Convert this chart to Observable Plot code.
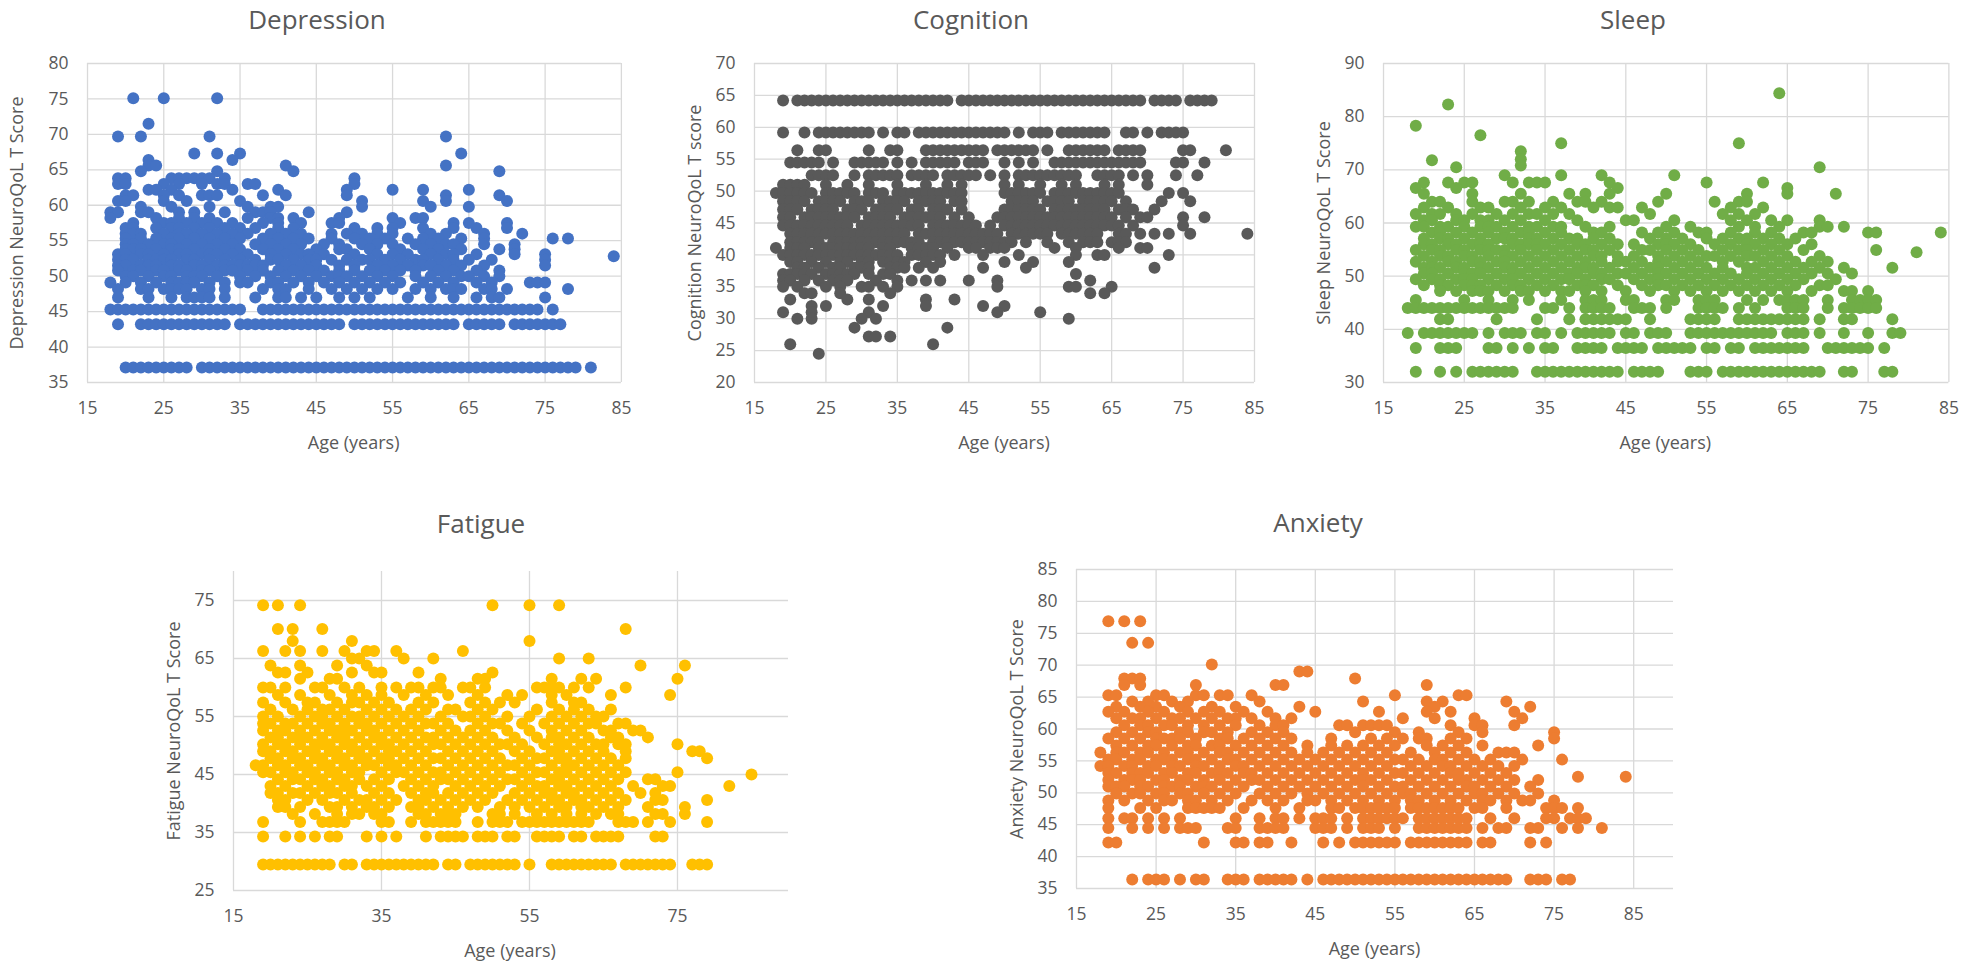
<!DOCTYPE html>
<html><head><meta charset="utf-8">
<script src="https://cdn.jsdelivr.net/npm/d3@7"></script>
<script src="https://cdn.jsdelivr.net/npm/@observablehq/plot@0.6"></script>
<style>
body{margin:0;background:#fff;}
#root{position:relative;width:1961px;height:969px;overflow:hidden;font-family:"Open Sans",sans-serif;color:#595959;}
.t{position:absolute;white-space:nowrap;transform:translate(-50%,-50%);}
.title{font-size:26px;}
.lab{font-size:18px;}
.rot{transform:translate(-50%,-50%) rotate(-90deg);}
</style></head><body><div id="root"></div>
<script>
// ---------------- DATA ----------------
const xTicksA = [15,25,35,45,55,65,75,85];
const xTicksF = [15,35,55,75];
const depTicks = [35,40,45,50,55,60,65,70,75,80];
const cogTicks = [20,25,30,35,40,45,50,55,60,65,70];
const slpTicks = [30,40,50,60,70,80,90];
const fatTicks = [25,35,45,55,65,75];
const anxTicks = [35,40,45,50,55,60,65,70,75,80,85];

const depScores = [75.1,71.5,69.7,67.3,66.4,65.6,64.8,63.8,63.0,62.2,61.4,60.6,59.8,59.0,58.2,57.5,56.8,56.0,55.3,54.5,53.8,53.1,52.8,52.3,51.5,50.8,50.0,49.1,48.2,47.0,45.3,43.2,37.1];
const depAges = [
 [21,25,32],[23],[19,22,31,62],[29,32,35,64],[23,34],[23,24,41,62],[22,32,42,69],
 [19,20,26,27,28,29,30,31,33,50],
 [19,20,25,27,30,32,33,36,37,50],
 [23,24,26,34,40,49,55,59,65],
 [20,21,25,27,30,31,32,38,41,49,62,69],
 [19,20,25,28,35,51,59,62,70],
 [22,26,31,36,39,40,51,60,65],
 [18,19,22,23,27,29,33,37,38,39,44,49],
 [18,24,27,29,31,36,39,40,42,48,55,58,59],
 [21,25,26,28,30,32,34,38,40,43,47,48,56,63,65,70],
 [20,21,24,26,27,29,31,33,35,37,40,42,50,53,55,59,63,66,70],
 [20,21,22,25,27,28,30,32,34,36,39,41,43,47,49,51,53,55,60,62,67,72],
 [20,22,24,26,27,29,31,33,35,38,40,42,44,47,50,52,54,57,59,61,64,67,76,78],
 [20,21,23,25,26,28,30,32,34,37,39,41,43,46,48,51,53,55,58,60,62,63,67,71],
 [20,21,22,24,26,27,29,31,33,35,38,40,42,45,48,49,52,56,59,61,64,69,71],
 [19,20,22,23,25,27,28,30,31,32,34,36,39,41,43,44,46,50,53,55,57,60,62,63,66,71,75],
 [84],
 [19,20,21,23,24,25,26,28,29,31,33,35,37,39,40,42,44,45,47,49,51,52,54,56,58,59,61,63,65,68,75],
 [19,20,22,23,24,26,27,29,30,32,33,34,35,36,37,38,41,43,45,48,50,53,55,57,59,60,62,64,67,75],
 [19,21,22,24,25,27,28,30,31,33,34,36,38,40,42,44,46,48,50,52,54,56,58,61,63,66,69],
 [20,21,23,25,26,28,29,30,32,35,37,39,41,43,45,47,48,49,51,53,55,58,60,62,64,65,67,69],
 [18,20,22,24,26,27,28,29,31,33,35,36,39,40,42,44,46,48,50,52,54,56,59,61,63,66,68,73,74,75],
 [19,22,23,25,26,27,28,30,31,33,38,40,41,44,47,49,51,53,55,58,60,62,63,64,67,68,70,78],
 [19,23,26,28,29,30,31,33,37,40,41,43,45,48,50,52,57,60,63,66,68,69,75],
 [18,19,20,21,22,23,24,25,26,27,28,29,30,31,32,33,34,35,38,39,40,41,42,43,44,45,46,47,48,49,50,51,52,53,54,55,56,57,58,59,60,61,62,63,64,65,66,67,68,69,70,71,72,73,74,76],
 [19,22,23,24,25,26,27,28,29,30,31,32,33,35,36,37,38,39,40,41,42,43,44,45,46,47,48,50,51,52,53,54,55,56,57,58,59,60,61,62,63,65,66,67,68,69,71,72,73,74,75,76,77],
 [20,21,22,23,24,25,26,27,28,30,31,32,33,34,35,36,37,38,39,40,41,42,43,44,45,46,47,48,49,50,51,52,53,54,55,56,57,58,59,60,61,62,63,64,65,66,67,68,69,70,71,72,73,74,75,76,77,78,79,81]
];

const cogScores = [64.2,59.2,56.4,54.5,52.5,51.0,49.7,48.4,47.1,45.9,44.6,43.3,42.0,41.1,40.0,38.9,38.0,37.0,36.0,35.0,34.0,33.0,32.0,31.0,30.0,28.6,27.2,26.0,24.5];
const cogAges = [
 [19,21,22,23,24,25,26,27,28,29,30,31,32,33,34,35,36,37,38,39,40,41,42,44,45,46,47,48,49,50,51,52,53,54,55,56,57,58,59,60,61,62,63,64,65,66,67,68,69,71,72,73,74,76,77,78,79],
 [19,22,24,25,26,27,28,29,30,31,33,35,36,38,39,40,41,42,43,44,45,46,47,48,49,50,52,54,55,56,58,59,60,61,62,63,64,67,68,70,72,73,74,75],
 [21,24,25,31,34,35,39,40,41,42,43,44,45,46,47,49,50,51,52,53,54,56,59,60,61,62,63,64,66,67,68,69,75,76,81],
 [20,21,22,23,24,26,29,30,31,32,33,35,37,39,40,41,42,43,45,46,47,50,52,54,57,58,59,60,61,62,63,64,65,66,67,68,69,74,75,78],
 [23,24,25,26,29,31,32,33,34,35,37,38,39,40,42,43,44,45,46,48,50,52,53,54,55,56,57,58,59,60,63,64,65,66,68,70,74,77],
 [19,20,21,22,25,28,31,35,39,42,44,50,52,55,58,60,64,66,70],
 [18,19,20,21,22,23,25,26,27,28,29,31,32,33,35,36,37,38,39,40,41,42,43,44,50,51,52,53,54,55,57,58,59,60,61,62,63,64,65,66,73,75],
 [19,20,21,22,24,25,26,27,29,30,31,33,34,35,36,38,39,40,41,43,44,51,52,53,54,56,57,58,59,61,62,63,64,65,67,72,76],
 [19,20,21,23,24,25,26,28,29,30,32,33,34,35,37,38,40,41,42,44,50,51,52,53,54,55,57,58,59,60,61,62,63,64,66,67,68,71],
 [19,20,22,23,24,25,26,27,28,29,31,32,33,34,36,37,38,39,40,41,43,45,49,50,51,52,53,54,55,56,57,58,59,60,61,62,63,64,65,67,69,70,75,78],
 [19,20,21,22,23,24,25,26,27,28,30,31,32,33,34,35,36,37,38,40,41,42,43,44,45,46,48,50,51,52,53,54,55,56,57,58,59,60,61,62,63,64,65,66,68,75],
 [20,21,22,23,24,25,26,27,28,29,30,31,32,33,34,35,36,38,39,40,41,42,43,44,45,46,47,48,49,51,52,53,54,55,56,58,59,60,61,62,63,66,67,69,71,73,76,84],
 [20,21,22,23,24,26,27,28,29,30,31,32,33,34,35,36,37,38,40,41,42,43,44,45,46,47,48,49,50,51,53,56,59,61,62,63,65,66,67],
 [18,20,21,22,24,25,26,27,28,29,30,31,33,34,37,38,39,40,42,45,46,48,49,50,57,60,66,69,70],
 [19,20,21,22,23,24,25,26,27,28,29,30,31,32,33,34,35,37,38,39,40,41,43,47,52,60,63,64,73],
 [20,21,23,25,27,28,30,31,33,34,35,36,39,41,50,54,59],
 [21,22,24,26,27,29,30,31,34,35,36,38,40,47,53,71],
 [19,20,21,22,23,25,26,27,28,29,31,33,34,60],
 [19,20,22,24,26,27,28,32,35,37,39,41,45,49,62],
 [19,21,25,27,30,31,33,35,49,59,60,65],
 [22,23,27,34,62,64],
 [20,28,31,39,43],
 [23,25,33,39,47,50],
 [19,23,31,49,55],
 [21,23,30,32,59],
 [29,42],
 [31,32,34],
 [20,40],
 [24]
];

const slpScores = [84.4,82.3,78.3,76.5,75.0,73.5,72.0,71.8,70.8,70.5,69.0,67.6,66.6,65.5,64.0,62.9,61.7,60.5,59.3,58.2,57.1,56.0,54.9,54.5,53.8,52.7,51.6,50.5,49.4,48.3,47.2,45.5,44.0,41.9,39.3,36.5,32.0];
const slpAges = [
 [64],[23],[19],[27],[37,59],[32],[32],[21],[32],[24,69],[30,37,42,51],
 [20,23,25,26,31,33,34,35,43,55,62],
 [19,24,44,65],
 [20,26,32,38,40,43,50,60,65,71],
 [21,22,26,30,31,33,36,39,40,42,49,56,59,60],
 [20,23,27,28,32,35,37,41,43,44,47,58,62],
 [19,21,22,24,26,29,31,33,34,36,38,48,57,59,61],
 [20,21,24,25,27,28,30,32,35,39,45,46,51,58,60,63,65,69],
 [19,20,22,23,25,27,28,29,31,33,34,36,37,40,43,50,53,59,61,64,69,70,72],
 [21,22,24,26,28,30,32,33,35,37,41,42,47,49,51,54,55,58,61,63,67,68,75,76,84],
 [20,22,23,25,27,29,30,31,33,34,36,38,39,41,43,48,50,52,55,57,59,60,62,64,66],
 [20,21,23,24,26,27,28,31,32,33,34,35,37,39,40,42,44,46,49,50,51,53,56,58,60,61,63,65,68],
 [19,21,22,24,25,27,28,29,30,32,34,36,38,40,41,43,47,48,50,52,54,57,59,60,62,64,67,76],
 [81],
 [20,22,23,25,26,28,30,31,33,35,37,39,41,42,44,46,49,51,53,55,56,58,60,61,63,65,69],
 [19,21,23,24,26,27,29,30,32,34,36,38,40,42,44,45,47,49,50,52,54,57,59,62,64,66,68,70],
 [20,21,22,24,25,27,28,30,31,33,35,37,39,40,41,43,46,48,49,51,53,55,57,60,61,63,65,67,69,72,78],
 [20,21,23,25,26,27,29,31,32,34,36,38,39,41,42,44,45,47,49,50,52,54,56,58,60,62,64,66,68,70,73],
 [19,21,22,24,25,26,28,30,31,33,35,37,38,40,42,43,46,48,49,51,53,55,57,59,61,63,65,67,71],
 [20,22,23,25,26,27,29,31,32,34,36,39,40,41,44,47,49,50,52,54,56,58,60,62,64,66,69,70],
 [22,24,26,27,28,30,32,33,35,37,38,40,42,45,48,51,53,55,57,59,61,63,65,68,72,73,75],
 [19,25,28,31,33,37,40,41,42,45,46,50,51,54,55,56,60,62,64,65,66,67,70,73,74,75,76],
 [18,19,20,21,22,23,24,25,26,27,28,29,30,31,35,36,38,40,41,42,43,46,47,48,50,54,55,56,57,59,61,65,66,67,70,72,73,74,75,76],
 [22,23,29,34,38,40,41,42,43,44,45,48,53,54,55,56,59,60,61,62,63,64,65,66,67,69,72,73,78],
 [18,20,21,22,23,24,25,26,28,30,31,32,34,35,37,39,40,41,42,43,45,46,48,49,50,53,54,55,56,57,58,59,60,61,62,63,65,66,67,69,72,75,78,79],
 [19,22,23,24,28,29,31,33,35,36,39,40,41,42,44,45,46,47,49,50,51,52,53,55,56,58,59,61,62,63,64,65,66,67,70,71,72,73,74,75,77],
 [19,22,24,26,27,28,29,30,31,34,35,36,37,38,39,40,41,42,43,44,46,47,48,49,53,54,55,57,58,59,60,61,62,63,64,65,66,67,68,69,72,73,77,78]
];

const fatScores = [74.2,70.1,68.0,66.3,65.0,63.8,62.6,61.5,60.0,58.7,57.4,56.2,55.0,53.8,52.6,51.4,50.2,49.0,47.8,46.6,45.4,45.0,44.2,43.0,41.8,40.6,39.4,38.2,36.8,34.3,29.5];
const fatAges = [
 [19,21,24,50,55,59],
 [21,23,27,68],
 [23,31,55],
 [19,22,24,27,30,33,34,37,46],
 [31,32,38,42,59,63],
 [20,24,29,33,70,76],
 [21,22,25,31,34,35,40,50],
 [24,28,29,43,48,49,58,62,64,75],
 [19,20,22,26,27,30,32,35,37,39,40,42,43,46,47,49,56,57,58,59,61,63,68],
 [21,24,28,31,33,35,38,41,44,48,52,54,58,60,66,74],
 [19,22,25,26,29,31,32,34,36,40,42,47,49,51,53,58,61,62],
 [20,23,25,27,28,30,33,35,37,39,41,44,45,48,50,56,59,61,63,66],
 [19,21,24,26,27,29,31,32,34,36,38,40,43,46,47,49,52,55,58,60,62,64,65],
 [19,20,22,23,25,27,28,30,32,33,35,37,39,41,42,44,48,50,51,54,57,59,61,63,64,67,68],
 [19,21,22,24,26,28,29,30,31,33,34,36,38,40,43,45,47,49,52,55,58,60,62,65,66,69,70],
 [20,21,23,24,25,27,29,30,32,34,35,37,39,41,42,44,46,48,50,53,56,58,59,61,63,66,67,71],
 [19,21,22,24,26,27,28,30,31,33,35,36,38,40,42,43,45,47,49,51,52,54,57,59,60,62,64,65,67,68,75],
 [19,20,22,23,25,26,28,29,31,32,34,36,37,39,41,44,46,48,50,53,55,58,59,61,63,65,68,77,78],
 [20,21,23,24,26,27,29,30,32,33,35,36,38,40,42,43,45,47,49,51,54,56,57,59,60,62,64,66,68,79],
 [18,19,21,22,24,25,27,28,30,31,33,34,36,37,39,41,44,46,48,50,52,53,55,58,60,61,63,65,67],
 [19,20,22,23,25,26,28,29,31,32,35,37,38,40,42,43,45,47,49,51,54,56,57,59,60,62,64,66,68,75],
 [85],
 [21,23,24,26,27,29,30,32,34,36,39,41,43,44,46,48,50,52,53,55,58,59,61,63,65,67,71,72],
 [20,22,25,27,28,30,31,33,35,38,40,42,45,47,49,51,54,56,57,59,60,62,64,66,69,73,74,82],
 [20,21,23,24,26,28,29,31,34,36,39,41,42,44,46,48,50,53,55,57,58,60,61,63,65,67,70,72],
 [21,22,25,27,30,32,33,35,37,40,41,43,45,47,49,52,54,56,58,59,61,62,64,66,68,72,73,79],
 [21,22,24,28,29,31,33,34,36,39,40,42,44,46,48,51,53,55,57,59,60,62,63,65,67,71,76],
 [23,26,29,31,32,34,35,40,41,43,44,45,50,51,53,56,58,60,62,64,66,67,72,73,76],
 [19,24,27,28,29,30,35,36,39,41,42,43,44,45,48,50,51,52,54,55,56,57,58,59,60,61,62,63,67,68,69,71,74,79],
 [19,22,24,26,28,29,33,35,37,41,43,44,45,46,48,49,50,52,53,56,57,58,59,61,62,64,65,66,67,72,73],
 [19,20,21,22,23,24,25,26,27,28,30,31,33,34,35,36,37,38,39,40,41,42,44,45,47,48,49,50,51,52,53,55,58,59,60,61,62,63,64,65,66,68,69,70,71,72,73,74,77,78,79]
];

const anxScores = [76.9,73.5,70.1,69.0,67.9,66.9,65.3,64.3,63.5,62.7,61.7,60.6,59.5,58.5,57.4,56.3,55.2,54.2,53.1,52.5,52.0,51.0,49.9,48.8,47.6,46.0,44.5,42.2,36.4];
const anxAges = [
 [19,21,23],[22,24],[32],[43,44],[21,22,23,50],[21,23,30,40,41,59],
 [19,20,25,26,30,31,33,34,37,55,63,64],
 [22,24,27,29,38,51,59,61,69],
 [20,23,25,28,32,35,43,60,72],
 [19,21,24,26,29,31,33,36,39,45,53,59,62,70],
 [20,22,23,25,27,28,30,32,34,35,37,40,42,56,60,65,71],
 [21,23,24,26,27,29,31,33,35,38,40,41,48,49,51,52,53,54,62,65,66,70],
 [20,22,24,25,28,29,31,32,34,37,39,41,50,55,58,63,66,75],
 [19,21,23,25,26,27,28,30,33,34,36,38,40,42,47,52,54,56,58,59,62,64,75],
 [20,22,24,25,27,29,30,32,33,35,37,39,41,44,47,49,51,53,55,59,61,63,66,73],
 [18,20,21,23,24,26,28,29,31,33,34,36,38,40,42,44,46,48,50,52,54,57,60,62,64,68,69,70],
 [19,20,22,23,25,26,27,29,30,32,34,35,37,39,41,43,45,47,49,51,53,55,56,58,60,61,63,65,67,71,76],
 [18,19,21,22,24,25,27,28,30,31,33,35,36,38,40,42,44,46,48,50,52,54,57,59,61,62,64,66,68,70],
 [19,20,22,23,24,26,27,29,30,32,33,34,36,37,39,41,43,45,47,49,51,53,55,56,58,60,62,63,65,67,69],
 [78,84],
 [19,21,22,23,25,26,28,29,31,33,35,37,38,40,42,44,46,48,50,51,52,54,57,59,61,63,64,66,68,70,73],
 [19,20,21,23,24,26,27,28,30,31,32,34,36,39,41,43,45,47,49,51,53,55,56,58,60,62,64,65,67,69,72],
 [20,22,23,25,26,28,29,31,33,35,38,40,42,44,46,48,50,52,54,56,57,59,61,63,65,66,68,70,73],
 [19,21,24,26,27,29,30,32,34,37,39,41,44,45,47,49,51,53,55,57,58,60,62,64,66,67,69,71,72,75],
 [19,23,25,29,30,31,32,33,36,40,43,47,48,50,51,52,53,54,55,57,58,59,60,61,62,63,65,66,69,74,75,76,78],
 [19,21,22,24,26,28,35,38,40,41,43,45,46,47,49,51,52,53,54,55,56,58,59,60,61,62,63,64,67,70,74,75,77,78,79],
 [19,22,24,26,28,29,30,34,35,38,39,40,41,45,46,47,49,51,52,53,55,58,59,60,61,62,63,64,66,68,69,72,73,76,78,81],
 [19,20,31,35,36,38,39,42,46,48,50,51,52,53,54,55,57,58,59,60,61,62,63,64,66,67,72,74],
 [22,24,25,26,28,30,31,34,35,36,38,39,40,41,42,44,46,47,48,49,50,51,52,53,54,55,56,57,58,59,60,61,62,63,64,65,66,67,68,69,72,73,74,76,77]
];

// ---------------- LAYOUT ----------------
const panels = [
 {title:"Depression", ylab:"Depression NeuroQoL T Score", scores:depScores, ages:depAges, color:"#4472C4",
  L:86.7, R:620.6, T:63, B:382, xDomain:[15,85], xTicks:xTicksA, yDomain:[35,80], yTicks:depTicks,
  tx:317, ty:19, ylx:16},
 {title:"Cognition", ylab:"Cognition NeuroQoL T score", scores:cogScores, ages:cogAges, color:"#595959",
  L:754, R:1254, T:63, B:382, xDomain:[15,85], xTicks:xTicksA, yDomain:[20,70], yTicks:cogTicks,
  tx:971, ty:19, ylx:694},
 {title:"Sleep", ylab:"Sleep NeuroQoL T Score", scores:slpScores, ages:slpAges, color:"#70AD47",
  L:1382.6, R:1948, T:63, B:382, xDomain:[15,85], xTicks:xTicksA, yDomain:[30,90], yTicks:slpTicks,
  tx:1633, ty:19, ylx:1323},
 {title:"Fatigue", ylab:"Fatigue NeuroQoL T Score", scores:fatScores, ages:fatAges, color:"#FFC000",
  L:232.5, R:787.5, T:571, B:890, xDomain:[15,90], xTicks:xTicksF, yDomain:[25,80], yTicks:fatTicks,
  tx:481, ty:523, ylx:173},
 {title:"Anxiety", ylab:"Anxiety NeuroQoL T Score", scores:anxScores, ages:anxAges, color:"#ED7D31",
  L:1076, R:1673, T:569, B:888, xDomain:[15,90], xTicks:xTicksA, yDomain:[35,85], yTicks:anxTicks,
  tx:1318, ty:522, ylx:1016}
];

const root = document.getElementById("root");
function addText(txt, cls, x, y){
  const d = document.createElement("div");
  d.className = "t " + cls; d.textContent = txt;
  d.style.left = x + "px"; d.style.top = y + "px";
  root.appendChild(d);
}
const mL = 50, mR = 20, mT = 20, mB = 45;
for (const p of panels) {
  const data = p.scores.flatMap((s,i)=>p.ages[i].map(a=>({age:a, score:s})));
  const W = p.R - p.L + mL + mR, H = p.B - p.T + mT + mB;
  const chart = Plot.plot({
    width: W, height: H, marginLeft: mL, marginRight: mR, marginTop: mT, marginBottom: mB,
    style: {fontFamily: "'Open Sans', sans-serif", fontSize: "17.5px", color: "#595959", background: "transparent", overflow: "visible"},
    x: {domain: p.xDomain},
    y: {domain: p.yDomain},
    marks: [
      Plot.gridX(p.xTicks, {stroke: "#d9d9d9", strokeOpacity: 1, strokeWidth: 1.3}),
      Plot.gridY(p.yTicks, {stroke: "#d9d9d9", strokeOpacity: 1, strokeWidth: 1.3}),
      Plot.dot(data, {x: "age", y: "score", r: 6, fill: p.color, stroke: "none"}),
      Plot.axisX(p.xTicks, {tickSize: 0, tickPadding: 19, label: null}),
      Plot.axisY(p.yTicks, {tickSize: 0, tickPadding: 19, label: null})
    ]
  });
  chart.style.position = "absolute";
  chart.style.left = (p.L - mL) + "px";
  chart.style.top = (p.T - mT) + "px";
  root.appendChild(chart);
  addText(p.title, "title", p.tx, p.ty);
  addText("Age (years)", "lab", (p.L + p.R) / 2, p.B + 60);
  addText(p.ylab, "lab rot", p.ylx, (p.T + p.B) / 2);
}
</script></body></html>
